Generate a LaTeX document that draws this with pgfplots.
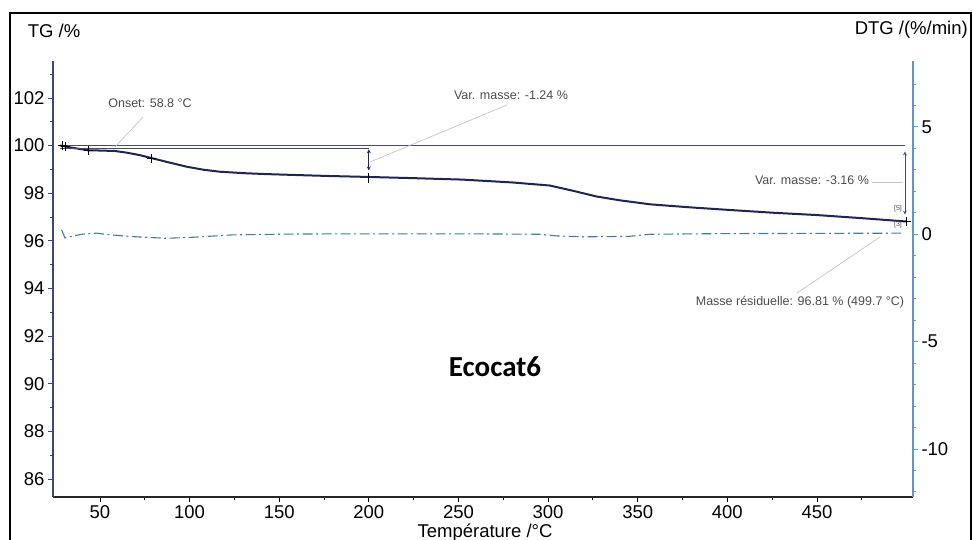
\documentclass[border=0pt]{standalone}
\usepackage{pgfplots}
\pgfplotsset{compat=1.18}
\usepackage{fontspec}
\setmainfont{Liberation Sans}
\newfontfamily\calibri{Carlito}
\definecolor{tgc}{RGB}{30,36,88}
\definecolor{leftax}{RGB}{60,70,120}
\definecolor{rightax}{RGB}{95,150,200}
\definecolor{dtgc}{RGB}{70,120,165}
\definecolor{refl}{RGB}{70,75,120}
\definecolor{lead}{RGB}{195,195,195}
\definecolor{anno}{RGB}{75,75,75}
\begin{document}
\begin{tikzpicture}
\path[use as bounding box] (0,0) rectangle (973bp,540bp);
\draw[line width=2.2bp, black] (10bp,-5bp) -- (10bp,527bp) -- (971bp,527bp) -- (971bp,-5bp);

\begin{axis}[
  at={(53bp,43bp)}, anchor=south west,
  scale only axis, width=860bp, height=436bp,
  xmin=23.8, xmax=503.6, ymin=85.24, ymax=103.55,
  axis x line=bottom, axis y line=left,
  axis line style={-},
  x axis line style={black!85, line width=1.4bp},
  y axis line style={leftax, line width=1.2bp},
  tick align=outside,
  major tick length=5bp, minor tick length=3bp,
  xtick={50,100,...,450}, minor xtick={75,125,...,475},
  ytick={86,88,...,102}, minor ytick={87,89,...,103},
  x tick style={black, line width=0.8bp},
  y tick style={leftax, line width=0.8bp},
  ticklabel style={font=\fontsize{18.5bp}{20bp}\selectfont, black},
  /pgf/number format/assume math mode=true,
  /pgf/number format/1000 sep={},
]
% TG curve
\addplot[tgc, line width=2bp] coordinates {
(27.7,100.0) (30,99.97) (35,99.9) (43.5,99.8) (50,99.79) (58.4,99.77)
(65,99.7) (72,99.6) (78.9,99.47) (88,99.3) (98.4,99.11) (108,98.98)
(117,98.9) (130,98.84) (143,98.8) (160,98.76) (178,98.72) (200,98.68)
(225,98.63) (252,98.57) (280,98.45) (301,98.32) (315,98.08) (327,97.86)
(340,97.7) (357,97.53) (380,97.4) (400,97.3) (425,97.18) (450,97.08)
(475,96.95) (499.7,96.81)};
% reference lines
\addplot[refl, line width=0.8bp] coordinates {(27.7,100.0) (499.1,100.0)};
\addplot[refl, line width=0.8bp] coordinates {(27.7,99.89) (200,99.89)};
% step markers
\addplot[only marks, mark=+, mark size=4.5bp, black, mark options={line width=1bp}] coordinates {
(29,100.0) (31,99.97) (43.5,99.8) (78.9,99.47) (499.7,96.83)};
\addplot[only marks, mark=|, mark size=5bp, black, mark options={line width=1.1bp}] coordinates {(200,98.62)};
% step arrows
\draw[tgc, line width=0.8bp, <->, >=stealth] (axis cs:200,99.84) -- (axis cs:200,98.95);
\draw[refl, line width=0.8bp, <->, >=stealth] (axis cs:499.1,99.75) -- (axis cs:499.1,97.1);
\end{axis}

\begin{axis}[
  at={(53bp,43bp)}, anchor=south west,
  scale only axis, width=860bp, height=436bp,
  xmin=23.8, xmax=503.6, ymin=-12.24, ymax=8.07,
  axis x line=none, axis y line*=right,
  axis line style={-},
  y axis line style={rightax, line width=1.2bp},
  tick align=outside,
  major tick length=5bp, minor tick length=3bp,
  ytick={-10,-5,0,5}, yticklabels={-10,-5,0,5},
  minor ytick={-12,-11,-9,-8,-7,-6,-4,-3,-2,-1,1,2,3,4,6,7},
  y tick style={rightax, line width=0.8bp},
  ticklabel style={font=\fontsize{18.5bp}{20bp}\selectfont, black},
]
\addplot[dtgc, line width=1.1bp, dash pattern=on 10bp off 3.5bp on 2bp off 3.5bp] coordinates {
(28.6,0.20) (30.5,-0.17) (33,-0.12) (40,0.0) (48,0.05) (55,-0.02) (68,-0.11)
(87,-0.19) (102,-0.14) (124,-0.03) (160,0.01) (200,0.02) (250,0.02)
(295,0.0) (305,-0.08) (320,-0.12) (345,-0.1) (357,0.0) (400,0.03)
(450,0.04) (498,0.05)};
\end{axis}

% leader lines
\draw[lead, line width=0.7bp] (143bp,423bp) -- (115bp,393bp);
\draw[lead, line width=0.7bp] (507bp,435bp) -- (370bp,378bp);
\draw[lead, line width=0.7bp] (872bp,358bp) -- (903bp,358bp);
\draw[lead, line width=0.7bp] (797bp,247bp) -- (880bp,303bp);

% annotations
\node[anno, font=\fontsize{12.5bp}{14bp}\selectfont] at (150bp,437bp) {Onset: 58.8 °C};
\node[anno, font=\fontsize{12.5bp}{14bp}\selectfont] at (511bp,445bp) {Var. masse: -1.24 \%};
\node[anno, font=\fontsize{12.5bp}{14bp}\selectfont] at (812bp,360bp) {Var. masse: -3.16 \%};
\node[anno, font=\fontsize{12.5bp}{14bp}\selectfont] at (800bp,238bp) {Masse résiduelle: 96.81 \% (499.7 °C)};
\node[anno, font=\fontsize{7bp}{8bp}\selectfont, inner sep=0pt] at (898bp,331bp) {[5]};
\node[anno, font=\fontsize{7bp}{8bp}\selectfont, inner sep=0pt] at (898bp,315bp) {[3]};

% titles
\node[font=\fontsize{18.5bp}{20bp}\selectfont] at (54bp,509bp) {TG /\%};
\node[font=\fontsize{18.5bp}{20bp}\selectfont, anchor=east, inner sep=0pt] at (968bp,510bp) {DTG /(\%/min)};
\node[font=\fontsize{18.5bp}{20bp}\selectfont, anchor=base, inner sep=0pt] at (485bp,3bp) {Température /°C};
\node[font=\calibri\bfseries\fontsize{29bp}{32bp}\selectfont] at (495bp,173bp) {Ecocat6};
\end{tikzpicture}
\end{document}
